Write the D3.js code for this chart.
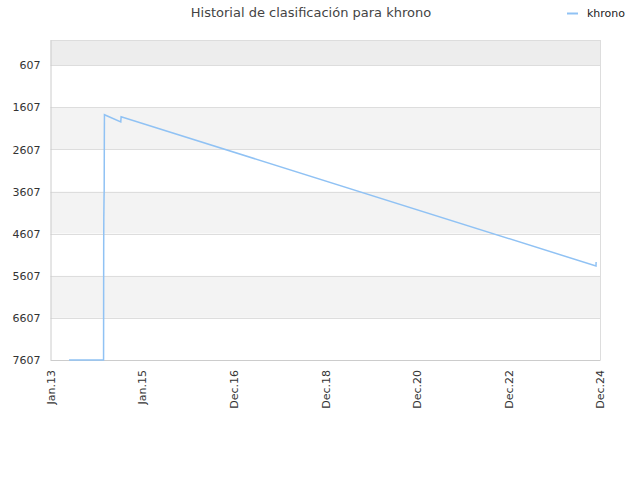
<!DOCTYPE html>
<html>
<head>
<meta charset="utf-8">
<script src="https://cdn.jsdelivr.net/npm/d3@7"></script>
<style>
body{margin:0;background:#fff;}
svg{font-family:"DejaVu Sans",Verdana,sans-serif;}
</style>
</head>
<body>
<svg id="c" width="640" height="480"></svg>
<script>
const title = "Historial de clasificación para khrono";
const seriesName = "khrono";
const dates = ["2013-05-29","2014-02-28","2014-03-01","2014-03-02","2014-03-03","2014-03-04","2014-03-05","2014-03-06","2014-03-07","2014-07-15","2014-07-18","2024-11-27","2024-11-28"];
const ranks = [7607,7607,4900,4200,3950,3700,3580,2400,1781,1954,1829,5374,5280];
const yTicks = [607,1607,2607,3607,4607,5607,6607,7607];
const xTickDays = [0,730,1460,2190,2920,3650,4380];
const xTickLabels = ["Jan.13","Jan.15","Dec.16","Dec.18","Dec.20","Dec.22","Dec.24"];
const yDomain = [7,7607];
const xStart = "2013-01-01";

const svg = d3.select("#c");
const L=50.5,R=600,T=40,B=360;
const parse = d3.utcParse("%Y-%m-%d");
const t0 = parse(xStart);
const dayMs = 86400000;
const x = d3.scaleUtc().domain([t0, new Date(+t0 + 4380*dayMs)]).range([L,R]);
const y = d3.scaleLinear().domain(yDomain).range([T,B]);

// bands
const bandEdges = [yDomain[0]].concat(yTicks);
for(let i=0;i<bandEdges.length-1;i++){
  const fill = i===0 ? "#ededed" : (i%2===0 ? "#f3f3f3" : "#ffffff");
  svg.append("rect").attr("x",L).attr("width",R-L)
    .attr("y",y(bandEdges[i])).attr("height",y(bandEdges[i+1])-y(bandEdges[i]))
    .attr("fill",fill);
}
// gridlines
svg.append("g").selectAll("line").data(yTicks).join("line")
  .attr("x1",L).attr("x2",R).attr("y1",d=>Math.round(y(d))+0.5).attr("y2",d=>Math.round(y(d))+0.5)
  .attr("stroke","#dddddd");
svg.append("line").attr("x1",L).attr("x2",R).attr("y1",T+0.5).attr("y2",T+0.5).attr("stroke","#dddddd");
svg.append("line").attr("x1",R+0.5).attr("x2",R+0.5).attr("y1",T).attr("y2",B).attr("stroke","#dddddd");

// y axis
const yAxis = d3.axisLeft(y).tickValues(yTicks).tickSize(0).tickPadding(10).tickFormat(d3.format("d"));
const gy = svg.append("g").attr("transform",`translate(${L},0)`).call(yAxis);
gy.select(".domain").attr("stroke","#cccccc");
gy.selectAll("text").attr("font-size",11).attr("fill","#333").attr("font-family","DejaVu Sans");

// x axis
const xTicks = xTickDays.map(d=>new Date(+t0 + d*dayMs));
const xAxis = d3.axisBottom(x).tickValues(xTicks).tickSize(0).tickFormat((d,i)=>xTickLabels[i]);
const gx = svg.append("g").attr("transform",`translate(0,${B})`).call(xAxis);
gx.select(".domain").attr("stroke","#cccccc");
gx.selectAll("text").attr("font-size",11).attr("fill","#333").attr("font-family","DejaVu Sans")
  .attr("text-anchor","end").attr("dy","0.35em").attr("dx",0)
  .attr("transform","translate(0,10) rotate(-90)").attr("x",0).attr("y",0);

// line
const data = dates.map((d,i)=>({d:parse(d), v:ranks[i]}));
svg.append("path").datum(data)
  .attr("fill","none").attr("stroke","#90c2f4").attr("stroke-width",1.5)
  .attr("d", d3.line().x(p=>x(p.d)).y(p=>y(p.v)));

// title
svg.append("text").attr("x",311).attr("y",17).attr("text-anchor","middle")
  .attr("font-size",13).attr("fill","#444").text(title);
// legend
svg.append("line").attr("x1",567).attr("x2",578).attr("y1",13.5).attr("y2",13.5)
  .attr("stroke","#90c2f4").attr("stroke-width",2);
svg.append("text").attr("x",587).attr("y",17).attr("font-size",11).attr("fill","#222").text(seriesName);
</script>
</body>
</html>
